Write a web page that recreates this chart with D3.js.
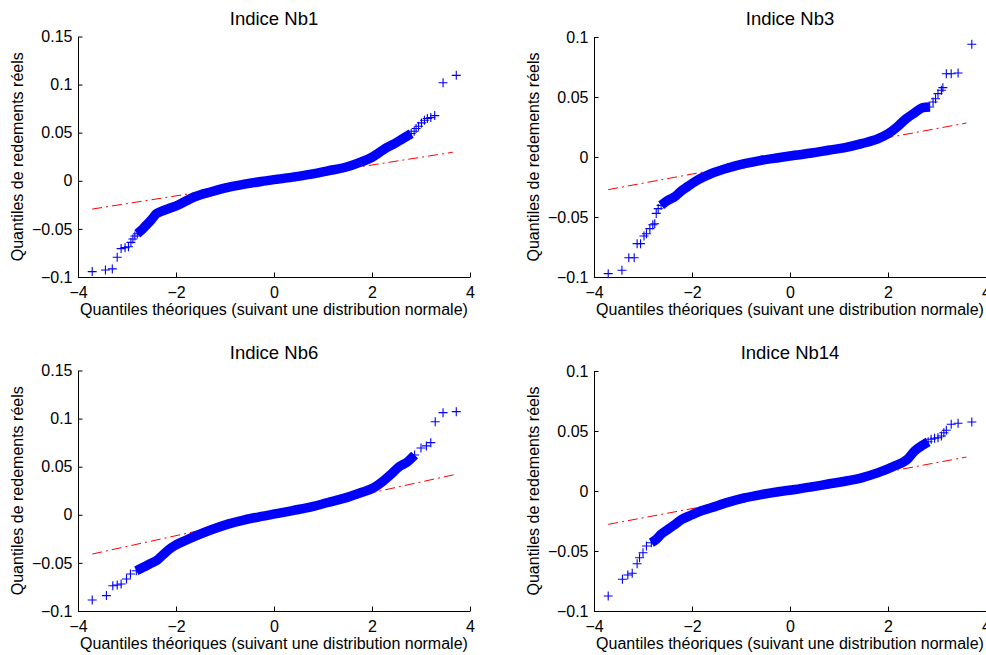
<!DOCTYPE html>
<html>
<head>
<meta charset="utf-8">
<script src="https://cdn.jsdelivr.net/npm/d3@7"></script>
<style>
html,body{margin:0;padding:0;background:#fff;}
svg{display:block;}
text{font-family:"Liberation Sans",Arial,Helvetica,sans-serif;fill:#000;}
</style>
</head>
<body>
<svg id="chart" width="986" height="655"></svg>
<script>
// ---------------- DATA ----------------
const titles = ["Indice Nb1", "Indice Nb3", "Indice Nb6", "Indice Nb14"];
const xLabel = "Quantiles théoriques (suivant une distribution normale)";
const yLabel = "Quantiles de redements réels";

const xTicks = [-4, -2, 0, 2, 4];
const xTickLabels = ["−4", "−2", "0", "2", "4"];
const yTicksWide = [-0.1, -0.05, 0, 0.05, 0.1, 0.15];
const yTickLabelsWide = ["−0.1", "−0.05", "0", "0.05", "0.1", "0.15"];
const yTicksNarrow = [-0.1, -0.05, 0, 0.05, 0.1];
const yTickLabelsNarrow = ["−0.1", "−0.05", "0", "0.05", "0.1"];

// [theoretical quantile, sample quantile]
const nb1 = [[-3.71,-0.0944],[-3.44,-0.0927],[-3.30,-0.0916],[-3.20,-0.0795],[-3.12,-0.0705],[-3.04,-0.0695],[-2.97,-0.0685],[-2.92,-0.0640],[-2.88,-0.0605],[-2.84,-0.0574],[-2.79,-0.0550],[-2.72,-0.0520],[-2.63,-0.0474],[-2.50,-0.0404],[-2.40,-0.0342],[-2.30,-0.0318],[-2.13,-0.0285],[-1.96,-0.0252],[-1.62,-0.0166],[-1.28,-0.0114],[-0.94,-0.0069],[-0.60,-0.0035],[-0.26,-0.0007],[0.08,0.0017],[0.42,0.0041],[0.76,0.0069],[1.10,0.0104],[1.44,0.0138],[1.78,0.0197],[1.99,0.0242],[2.12,0.0284],[2.29,0.0342],[2.46,0.0387],[2.63,0.0439],[2.80,0.0491],[2.86,0.0515],[2.90,0.0543],[2.95,0.0567],[3.01,0.0602],[3.07,0.0629],[3.13,0.0647],[3.20,0.0657],[3.28,0.0678],[3.45,0.1020],[3.72,0.1096]];
const nb3 = [[-3.71,-0.0972],[-3.43,-0.0944],[-3.29,-0.0839],[-3.18,-0.0839],[-3.12,-0.0722],[-3.05,-0.0722],[-2.98,-0.0658],[-2.93,-0.0640],[-2.86,-0.0597],[-2.80,-0.0564],[-2.76,-0.0556],[-2.73,-0.0470],[-2.69,-0.0430],[-2.63,-0.0403],[-2.49,-0.0361],[-2.35,-0.0330],[-2.22,-0.0283],[-2.08,-0.0244],[-1.95,-0.0208],[-1.61,-0.0139],[-1.27,-0.0092],[-0.93,-0.0056],[-0.59,-0.0028],[-0.24,-0.0006],[0.10,0.0014],[0.44,0.0033],[0.78,0.0056],[1.12,0.0078],[1.46,0.0111],[1.80,0.0153],[2.00,0.0194],[2.20,0.0256],[2.37,0.0319],[2.54,0.0367],[2.71,0.0411],[2.85,0.0417],[2.92,0.0458],[2.97,0.0486],[3.02,0.0528],[3.09,0.0556],[3.12,0.0578],[3.19,0.0694],[3.29,0.0694],[3.43,0.0700],[3.71,0.0939]];
const nb6 = [[-3.71,-0.0885],[-3.42,-0.0840],[-3.29,-0.0737],[-3.20,-0.0730],[-3.12,-0.0719],[-3.01,-0.0667],[-2.93,-0.0615],[-2.81,-0.0581],[-2.67,-0.0546],[-2.54,-0.0512],[-2.40,-0.0477],[-2.27,-0.0418],[-2.13,-0.0356],[-2.03,-0.0322],[-1.82,-0.0270],[-1.62,-0.0225],[-1.28,-0.0156],[-0.94,-0.0097],[-0.60,-0.0052],[-0.26,-0.0017],[0.08,0.0014],[0.42,0.0048],[0.76,0.0083],[1.10,0.0128],[1.44,0.0173],[1.78,0.0232],[2.05,0.0285],[2.19,0.0335],[2.39,0.0422],[2.56,0.0502],[2.73,0.0553],[2.87,0.0622],[3.00,0.0695],[3.11,0.0716],[3.20,0.0750],[3.29,0.0968],[3.45,0.1062],[3.72,0.1072]];
const nb14 = [[-3.71,-0.0875],[-3.42,-0.0736],[-3.31,-0.0700],[-3.22,-0.0686],[-3.12,-0.0606],[-3.07,-0.0556],[-3.00,-0.0514],[-2.93,-0.0458],[-2.83,-0.0431],[-2.73,-0.0403],[-2.63,-0.0361],[-2.49,-0.0319],[-2.35,-0.0280],[-2.22,-0.0240],[-2.01,-0.0200],[-1.81,-0.0165],[-1.61,-0.0140],[-1.27,-0.0095],[-0.93,-0.0058],[-0.59,-0.0030],[-0.24,-0.0006],[0.10,0.0012],[0.44,0.0034],[0.78,0.0058],[1.12,0.0081],[1.46,0.0110],[1.80,0.0153],[2.12,0.0206],[2.41,0.0270],[2.54,0.0333],[2.68,0.0375],[2.82,0.0410],[2.88,0.0431],[2.95,0.0439],[3.02,0.0444],[3.09,0.0458],[3.14,0.0486],[3.19,0.0506],[3.29,0.0556],[3.43,0.0564],[3.71,0.0575]];

// reference lines (first/third quartile fit), endpoints
const fit1 = [[-3.71,-0.0294],[3.65,0.0297]];
const fit3 = [[-3.71,-0.0272],[3.60,0.0283]];
const fit6 = [[-3.71,-0.0408],[3.72,0.0422]];
const fit14 = [[-3.71,-0.0278],[3.60,0.0283]];

// range of theoretical quantiles where the markers overlap into a solid band
const dense1 = [-2.79, 2.80];
const dense3 = [-2.63, 2.85];
const dense6 = [-2.81, 2.87];
const dense14 = [-2.83, 2.82];

// ---------------- DRAW ----------------
const svg = d3.select("#chart");
svg.append("rect").attr("width", 986).attr("height", 655).attr("fill", "#fff");

const panels = [
  {title: titles[0], pts: nb1, fit: fit1, dense: dense1, yDom: [-0.1, 0.15], yT: yTicksWide, yL: yTickLabelsWide, left: 78, right: 470, top: 36.5, bottom: 277},
  {title: titles[1], pts: nb3, fit: fit3, dense: dense3, yDom: [-0.1, 0.1], yT: yTicksNarrow, yL: yTickLabelsNarrow, left: 594, right: 986, top: 37, bottom: 277},
  {title: titles[2], pts: nb6, fit: fit6, dense: dense6, yDom: [-0.1, 0.15], yT: yTicksWide, yL: yTickLabelsWide, left: 78, right: 470, top: 370.5, bottom: 611},
  {title: titles[3], pts: nb14, fit: fit14, dense: dense14, yDom: [-0.1, 0.1], yT: yTicksNarrow, yL: yTickLabelsNarrow, left: 594, right: 986, top: 371, bottom: 611}
];

const BLUE = "#0000ff";

panels.forEach(p => {
  const g = svg.append("g");
  const x = d3.scaleLinear().domain([-4, 4]).range([p.left, p.right]);
  const y = d3.scaleLinear().domain(p.yDom).range([p.bottom, p.top]);

  // axes
  const xa = g.append("g").attr("transform", `translate(0,${Math.round(p.bottom)})`)
    .call(d3.axisBottom(x).tickValues(xTicks).tickFormat((d, i) => xTickLabels[i])
      .tickSizeInner(-4.5).tickSizeOuter(0).tickPadding(9.5));
  const ya = g.append("g").attr("transform", `translate(${Math.round(p.left)},0)`)
    .call(d3.axisLeft(y).tickValues(p.yT).tickFormat((d, i) => p.yL[i])
      .tickSizeInner(-4.5).tickSizeOuter(0).tickPadding(5.5));
  [xa, ya].forEach(a => {
    a.select(".domain").attr("stroke", "#000").attr("stroke-width", 1);
    a.selectAll(".tick line").attr("stroke", "#000");
    a.selectAll("text").attr("font-size", 16).attr("fill", "#000")
      .attr("font-family", '"Liberation Sans",Arial,Helvetica,sans-serif');
  });

  // reference line (dash-dot, red)
  g.append("path")
    .attr("d", d3.line().x(d => x(d[0])).y(d => y(d[1]))(p.fit))
    .attr("fill", "none").attr("stroke", "#ff0000").attr("stroke-width", 1)
    .attr("stroke-dasharray", "10,4,2,4");

  // dense band of overlapping markers
  const densePts = p.pts.filter(d => d[0] >= p.dense[0] && d[0] <= p.dense[1]);
  g.append("path")
    .attr("d", d3.line().x(d => x(d[0])).y(d => y(d[1])).curve(d3.curveMonotoneX)(densePts))
    .attr("fill", "none").attr("stroke", BLUE).attr("stroke-width", 9.5)
    .attr("stroke-linejoin", "round").attr("stroke-linecap", "butt");

  // "+" markers
  g.append("g").selectAll("path").data(p.pts).join("path")
    .attr("d", d => {
      const cx = x(d[0]), cy = y(d[1]);
      return `M${cx - 4.5},${cy}h9M${cx},${cy - 4.5}v9`;
    })
    .attr("fill", "none").attr("stroke", BLUE).attr("stroke-width", 1.1);

  // title & labels
  const cx = (p.left + Math.min(p.right, 986 + 0)) / 2;
  const midX = (x(-4) + x(4)) / 2;
  g.append("text").attr("x", midX).attr("y", p.top - 12)
    .attr("text-anchor", "middle").attr("font-size", 18.5).text(p.title);
  g.append("text").attr("x", midX).attr("y", p.bottom + 38)
    .attr("text-anchor", "middle").attr("font-size", 16).text(xLabel);
  g.append("text")
    .attr("transform", `translate(${p.left - 55},${(p.top + p.bottom) / 2}) rotate(-90)`)
    .attr("text-anchor", "middle").attr("font-size", 16).text(yLabel);
});
</script>
</body>
</html>
